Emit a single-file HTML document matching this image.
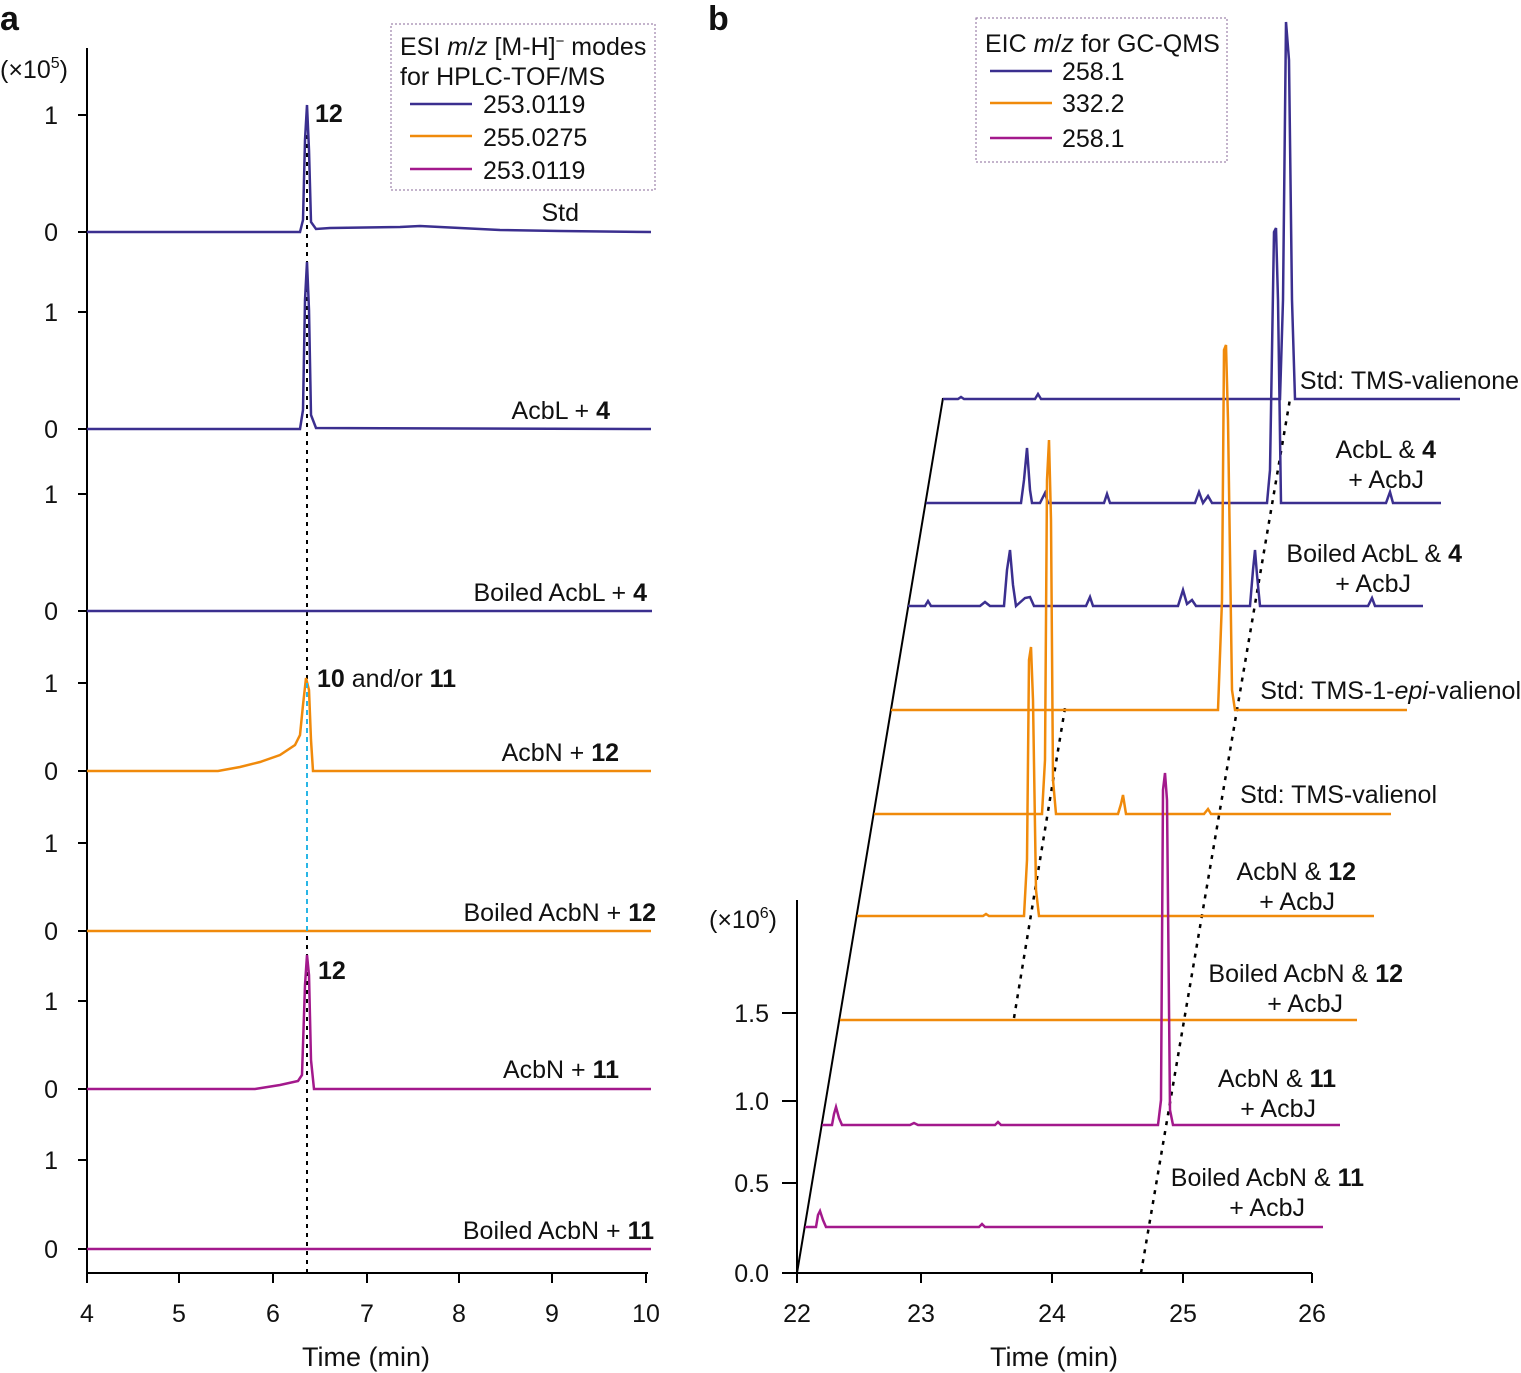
<!DOCTYPE html>
<html><head><meta charset="utf-8"><style>
html,body{margin:0;padding:0;background:#fff;}
svg{display:block;font-family:"Liberation Sans",Arial,sans-serif;}
text{font-size:25px;fill:#111;}
</style></head><body>
<svg width="1521" height="1373" viewBox="0 0 1521 1373" xmlns="http://www.w3.org/2000/svg">
<text x="0" y="30" style="font-size:34px;font-weight:bold">a</text>
<text x="708" y="30" style="font-size:34px;font-weight:bold">b</text>

<g stroke="#000" stroke-width="2" fill="none">
<line x1="87" y1="48" x2="87" y2="1274"/>
<line x1="86" y1="1273" x2="648" y2="1273"/>
<path d="M87 1273v10M179 1273v10M273 1273v10M367 1273v10M459 1273v10M552 1273v10M646 1273v10"/>
<path d="M78 115h9M78 232h9M78 312h9M78 429h9M78 494h9M78 611h9M78 683h9M78 771h9M78 843h9M78 931h9M78 1001h9M78 1089h9M78 1160h9M78 1249h9"/>
</g>
<g text-anchor="middle">
<text x="87" y="1322">4</text><text x="179" y="1322">5</text><text x="273" y="1322">6</text><text x="367" y="1322">7</text><text x="459" y="1322">8</text><text x="552" y="1322">9</text><text x="646" y="1322">10</text>
<text x="366" y="1366" style="font-size:27px">Time (min)</text>
</g>
<g text-anchor="end">
<text x="58" y="124">1</text><text x="58" y="241">0</text>
<text x="58" y="321">1</text><text x="58" y="438">0</text>
<text x="58" y="503">1</text><text x="58" y="620">0</text>
<text x="58" y="692">1</text><text x="58" y="780">0</text>
<text x="58" y="852">1</text><text x="58" y="940">0</text>
<text x="58" y="1010">1</text><text x="58" y="1098">0</text>
<text x="58" y="1169">1</text><text x="58" y="1258">0</text>
</g>
<text x="0" y="78">(×10<tspan dy="-10" style="font-size:16px">5</tspan><tspan dy="10">)</tspan></text>

<line x1="307" y1="108" x2="307" y2="1273" stroke="#000" stroke-width="2" stroke-dasharray="4,5"/>

<g fill="none" stroke-width="2.5">
<path stroke="#3b2f8f" d="M87 232H300L303 220L305 140L307 105L309 150L311 222L316 229L330 228L400 227L420 226L460 228L500 230L560 231L651 232"/>
<path stroke="#3b2f8f" d="M87 429H300L303 410L305 300L307 262L309 310L311 415L316 428L651 429"/>
<path stroke="#3b2f8f" d="M87 611H652"/>
<path stroke="#f08a0b" d="M87 771H218L240 767L260 762L280 755L295 745L300 735L303 705L306 678L309 690L311 740L313 771H651"/>
<path stroke="#f08a0b" d="M87 931H651"/>
<path stroke="#a3198c" d="M87 1089H255L280 1085L298 1081L302 1075L305 985L307 955L309 975L311 1060L314 1089H651"/>
<path stroke="#a3198c" d="M87 1249H651"/>
</g>
<line x1="307" y1="683" x2="307" y2="931" stroke="#29b6e6" stroke-width="2" stroke-dasharray="5,4"/>

<text x="315" y="122" style="font-weight:bold">12</text>
<text x="317" y="687"><tspan font-weight="bold">10</tspan> and/or <tspan font-weight="bold">11</tspan></text>
<text x="318" y="979" style="font-weight:bold">12</text>
<g text-anchor="end">
<text x="579" y="221">Std</text>
<text x="610" y="419">AcbL + <tspan font-weight="bold">4</tspan></text>
<text x="647" y="601">Boiled AcbL + <tspan font-weight="bold">4</tspan></text>
<text x="619" y="761">AcbN + <tspan font-weight="bold">12</tspan></text>
<text x="656" y="921">Boiled AcbN + <tspan font-weight="bold">12</tspan></text>
<text x="619" y="1078">AcbN + <tspan font-weight="bold">11</tspan></text>
<text x="654" y="1239">Boiled AcbN + <tspan font-weight="bold">11</tspan></text>
</g>

<rect x="391" y="24" width="264" height="166" fill="none" stroke="#8a6a9a" stroke-width="1" stroke-dasharray="2,2"/>
<text x="400" y="55">ESI <tspan font-style="italic">m</tspan>/<tspan font-style="italic">z</tspan> [M-H]<tspan dy="-9" style="font-size:15px">−</tspan><tspan dy="9"> modes</tspan></text>
<text x="400" y="85">for HPLC-TOF/MS</text>
<line x1="410" y1="104" x2="472" y2="104" stroke="#3b2f8f" stroke-width="2.5"/>
<line x1="410" y1="136" x2="472" y2="136" stroke="#f08a0b" stroke-width="2.5"/>
<line x1="410" y1="169" x2="472" y2="169" stroke="#a3198c" stroke-width="2.5"/>
<text x="483" y="113">253.0119</text><text x="483" y="146">255.0275</text><text x="483" y="179">253.0119</text>

<g stroke="#000" stroke-width="2" fill="none">
<line x1="797" y1="900" x2="797" y2="1274"/>
<line x1="796" y1="1273" x2="1312" y2="1273"/>
<path d="M797 1273v10M921 1273v10M1052 1273v10M1183 1273v10M1312 1273v10"/>
<path d="M782 1273h15M782 1183h15M782 1101h15M782 1013h15"/>
<line x1="797" y1="1273" x2="943" y2="398"/>
</g>
<g text-anchor="middle">
<text x="797" y="1322">22</text><text x="921" y="1322">23</text><text x="1052" y="1322">24</text><text x="1183" y="1322">25</text><text x="1312" y="1322">26</text>
<text x="1054" y="1366" style="font-size:27px">Time (min)</text>
</g>
<g text-anchor="end">
<text x="769" y="1282">0.0</text><text x="769" y="1192">0.5</text><text x="769" y="1110">1.0</text><text x="769" y="1022">1.5</text>
</g>
<text x="709" y="928">(×10<tspan dy="-10" style="font-size:16px">6</tspan><tspan dy="10">)</tspan></text>

<g stroke="#000" stroke-width="2.5" stroke-dasharray="4,6">
<line x1="1014" y1="1018" x2="1065" y2="708"/>
<line x1="1141" y1="1273" x2="1290" y2="399"/>
</g>

<g fill="none" stroke-width="2.5">
<path stroke="#3b2f8f" d="M943 399H958L961 397L964 399H1035L1038 394L1041 399H1280L1283 300L1286 22L1289 60L1292 300L1295 399H1460"/>
<path stroke="#3b2f8f" d="M926 503H1021L1024 480L1027 448L1030 490L1032 503H1040L1045 493L1048 503H1104L1107 494L1110 503H1195L1199 492L1203 503L1208 496L1212 503H1267L1270 470L1274 232L1276 228L1278 300L1281 503H1386L1390 492L1393 503H1441"/>
<path stroke="#3b2f8f" d="M908 606H925L928 601L931 606H980L985 602L990 606H1004L1007 570L1010 550L1013 585L1016 606L1025 598L1030 597L1034 606H1086L1090 597L1093 606H1178L1183 590L1187 604L1192 600L1196 606H1250L1253 570L1255 550L1257 575L1260 606H1368L1372 598L1375 606H1423"/>
<path stroke="#f08a0b" d="M891 710H1218L1222 600L1224 350L1226 345L1228 420L1232 690L1235 710H1407"/>
<path stroke="#f08a0b" d="M874 814H1042L1045 760L1047 480L1049 440L1051 520L1053 780L1056 814H1118L1121 804L1123 795L1126 814H1204L1208 809L1211 814H1391"/>
<path stroke="#f08a0b" d="M857 916H983L986 914L989 916H1024L1027 860L1029 660L1031 647L1033 700L1036 890L1039 916H1374"/>
<path stroke="#f08a0b" d="M840 1020H1357"/>
<path stroke="#a3198c" d="M822 1125H832L834 1114L836 1107L839 1118L842 1125H910L914 1123L918 1125H995L998 1122L1001 1125H1158L1161 1100L1163 790L1165 773L1167 800L1170 1110L1173 1125H1340"/>
<path stroke="#a3198c" d="M805 1227H816L818 1215L820 1211L823 1220L826 1227H979L982 1224L985 1227H1323"/>
</g>

<g text-anchor="end">
<text x="1519" y="389">Std: TMS-valienone</text>
<text x="1436" y="458">AcbL &amp; <tspan font-weight="bold">4</tspan></text>
<text x="1424" y="488">+ AcbJ</text>
<text x="1462" y="562">Boiled AcbL &amp; <tspan font-weight="bold">4</tspan></text>
<text x="1411" y="592">+ AcbJ</text>
<text x="1521" y="699">Std: TMS-1-<tspan font-style="italic">epi</tspan>-valienol</text>
<text x="1437" y="803">Std: TMS-valienol</text>
<text x="1356" y="880">AcbN &amp; <tspan font-weight="bold">12</tspan></text>
<text x="1335" y="910">+ AcbJ</text>
<text x="1403" y="982">Boiled AcbN &amp; <tspan font-weight="bold">12</tspan></text>
<text x="1343" y="1012">+ AcbJ</text>
<text x="1336" y="1087">AcbN &amp; <tspan font-weight="bold">11</tspan></text>
<text x="1316" y="1117">+ AcbJ</text>
<text x="1364" y="1186">Boiled AcbN &amp; <tspan font-weight="bold">11</tspan></text>
<text x="1305" y="1216">+ AcbJ</text>
</g>

<rect x="976" y="18" width="251" height="144" fill="none" stroke="#8a6a9a" stroke-width="1" stroke-dasharray="2,2"/>
<text x="985" y="52">EIC <tspan font-style="italic">m</tspan>/<tspan font-style="italic">z</tspan> for GC-QMS</text>
<line x1="990" y1="71" x2="1052" y2="71" stroke="#3b2f8f" stroke-width="2.5"/>
<line x1="990" y1="103" x2="1052" y2="103" stroke="#f08a0b" stroke-width="2.5"/>
<line x1="990" y1="138" x2="1052" y2="138" stroke="#a3198c" stroke-width="2.5"/>
<text x="1062" y="80">258.1</text><text x="1062" y="112">332.2</text><text x="1062" y="147">258.1</text>
</svg>
</body></html>
